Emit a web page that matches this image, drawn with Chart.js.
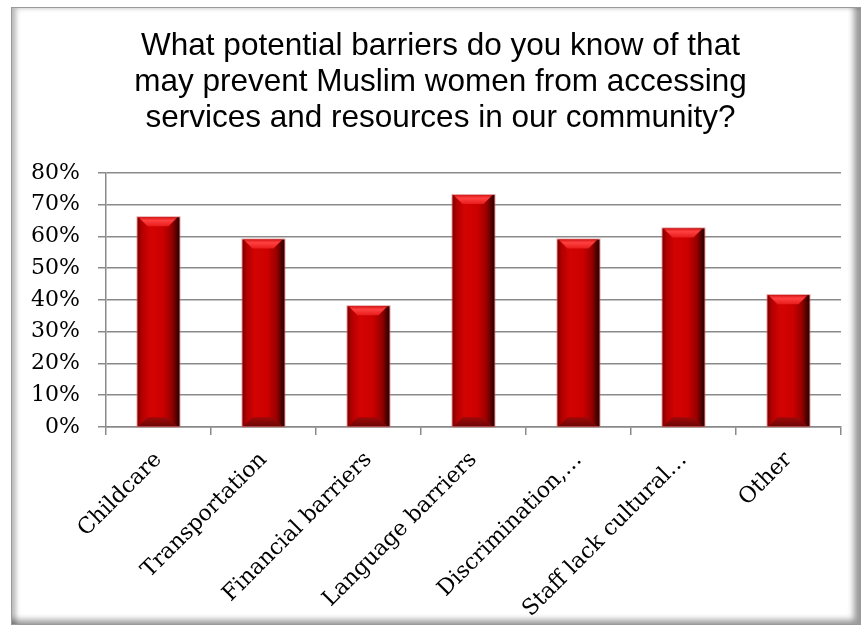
<!DOCTYPE html>
<html lang="en">
<head>
  <meta charset="UTF-8" />
  <title>Barriers to services</title>
  <script src="https://cdn.jsdelivr.net/npm/chart.js"></script>
  <style>
    body {
      margin: 0;
      background: #ffffff;
    }

    #frame {
      position: absolute;
      left: 11px;
      top: 7px;
      width: 848px;
      height: 616px;
      border: 1px solid #9a9a9a;
      box-shadow: inset -9px -7px 6px -3px rgba(0, 0, 0, 0.4),
                  inset 6px 2px 5px -2px rgba(0, 0, 0, 0.28);
    }

    #wrap {
      position: absolute;
      left: 0;
      top: 0;
      width: 868px;
      height: 626px;
    }
  </style>
</head>
<body>
  <div id="frame"></div>
  <div id="wrap">
    <canvas id="barChart" width="868" height="626"></canvas>
  </div>

  <script>
    const titleLines = [
      'What potential barriers do you know of that',
      'may prevent Muslim women from accessing',
      'services and resources in our community?'
    ];
    const categories = [
      'Childcare',
      'Transportation',
      'Financial barriers',
      'Language barriers',
      'Discrimination,\u2026',
      'Staff lack cultural\u2026',
      'Other'
    ];
    const percentages = [66, 59, 38, 73, 59, 62.5, 41.5];
    const axisMax = 80;
    const axisStep = 10;

    // the title sits a little right of the plot's centre
    const titleNudge = {
      id: 'titleNudge',
      afterLayout(chart) {
        chart.titleBlock.left += 7;
        chart.titleBlock.right += 7;
      }
    };

    // paints each bar as a bevelled red column on top of the plain fill
    const bevelBars = {
      id: 'bevelBars',
      afterDatasetsDraw(chart) {
        const ctx = chart.ctx;
        const meta = chart.getDatasetMeta(0);
        meta.data.forEach(bar => {
          const w = bar.width;
          const x0 = bar.x - w / 2;
          const x1 = bar.x + w / 2;
          const top = bar.y;
          const bot = bar.base;
          const b = Math.min(9, (bot - top) / 3);

          ctx.save();
          const body = ctx.createLinearGradient(x0, 0, x1, 0);
          body.addColorStop(0, '#7e0000');
          body.addColorStop(0.1, '#b20000');
          body.addColorStop(0.3, '#d30303');
          body.addColorStop(0.6, '#cc0000');
          body.addColorStop(0.82, '#960000');
          body.addColorStop(0.94, '#4a0000');
          body.addColorStop(1, '#240000');
          ctx.fillStyle = body;
          ctx.fillRect(x0, top, w, bot - top);

          // top bevel
          const cap = ctx.createLinearGradient(0, top, 0, top + b);
          cap.addColorStop(0, '#d81818');
          cap.addColorStop(0.35, '#ff4040');
          cap.addColorStop(1, '#e81c1c');
          ctx.fillStyle = cap;
          ctx.beginPath();
          ctx.moveTo(x0 + 1, top);
          ctx.lineTo(x1 - 2, top);
          ctx.lineTo(x1 - 2 - b, top + b);
          ctx.lineTo(x0 + 1 + b, top + b);
          ctx.closePath();
          ctx.fill();

          // bottom bevel
          const foot = ctx.createLinearGradient(0, bot - b, 0, bot);
          foot.addColorStop(0, '#a00808');
          foot.addColorStop(1, '#6e0606');
          ctx.fillStyle = foot;
          ctx.beginPath();
          ctx.moveTo(x0 + 1, bot);
          ctx.lineTo(x1 - 2, bot);
          ctx.lineTo(x1 - 2 - b, bot - b);
          ctx.lineTo(x0 + 1 + b, bot - b);
          ctx.closePath();
          ctx.fill();

          ctx.strokeStyle = 'rgba(210, 90, 90, 0.55)';
          ctx.lineWidth = 1;
          ctx.strokeRect(x0 - 0.5, top - 0.5, w + 1, bot - top + 1);
          ctx.restore();
        });
      }
    };

    const ctx = document.getElementById('barChart').getContext('2d');
    new Chart(ctx, {
      type: 'bar',
      data: {
        labels: categories,
        datasets: [{
          data: percentages,
          backgroundColor: '#c00000',
          borderWidth: 0,
          barPercentage: 0.8,
          categoryPercentage: 0.5
        }]
      },
      options: {
        responsive: false,
        animation: false,
        events: [],
        layout: {
          padding: { top: 10, left: 26, right: 27, bottom: 2 }
        },
        plugins: {
          legend: { display: false },
          tooltip: { enabled: false },
          title: {
            display: true,
            text: titleLines,
            color: '#000000',
            font: { family: '"Liberation Sans", Arial, sans-serif', size: 31.5, weight: 'normal', lineHeight: 1.13 },
            padding: { top: 19, bottom: 37 }
          }
        },
        scales: {
          x: {
            afterFit: scale => { scale.height = 197; },
            grid: {
              drawOnChartArea: false,
              color: '#8a8a8a',
              lineWidth: 1.5,
              tickLength: 8
            },
            border: { color: '#8a8a8a', width: 1.5 },
            ticks: {
              color: '#000000',
              minRotation: 45,
              maxRotation: 45,
              padding: 12,
              font: { family: '"DejaVu Serif", serif', size: 22 }
            }
          },
          y: {
            min: 0,
            max: axisMax,
            afterFit: scale => { scale.width = 80; },
            grid: {
              color: '#8a8a8a',
              lineWidth: 1.5,
              tickLength: 8
            },
            border: { color: '#8a8a8a', width: 1.5 },
            ticks: {
              stepSize: axisStep,
              color: '#000000',
              padding: 18,
              font: { family: '"DejaVu Serif", serif', size: 22 },
              callback: v => v + '%'
            }
          }
        }
      },
      plugins: [titleNudge, bevelBars]
    });
  </script>
</body>
</html>
